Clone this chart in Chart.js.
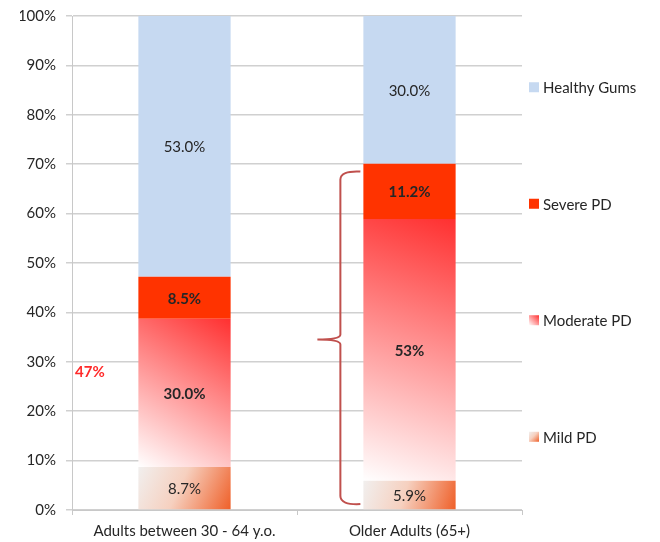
<!DOCTYPE html>
<html>
<head>
<meta charset="utf-8">
<script src="https://cdn.jsdelivr.net/npm/chart.js@4"></script>
<style>
  html, body { margin: 0; padding: 0; background: #fff; }
  #wrap { width: 660px; height: 542px; }
</style>
</head>
<body>
<div id="wrap"><canvas id="chart"></canvas></div>
<script>
// data
const categories = ["Adults between 30 - 64 y.o.", "Older Adults (65+)"];
const mildPD = [8.7, 5.9];
const moderatePD = [30.0, 53];
const severePD = [8.5, 11.2];
const healthyGums = [53.0, 30.0];

// text shown inside the bars
const mildLabels = ["8.7%", "5.9%"];
const moderateLabels = ["30.0%", "53%"];
const severeLabels = ["8.5%", "11.2%"];
const healthyLabels = ["53.0%", "30.0%"];

// note + brace on the side
const sideNote = "47%";
const sideNoteValue = 28;
const braceRange = [68.5, 34.5, 1.2]; // top, tip, bottom (% on y axis)

const FONT = "Lato, 'Open Sans', sans-serif";
const TEXT = "#262626";
const BAR_PCT = 0.41;

// bar segment box in pixels, from the scales
function segBox(chart, dsIndex, i) {
  const xs = chart.scales.x, ys = chart.scales.y;
  const sets = chart.data.datasets;
  let base = 0;
  for (let k = 0; k < dsIndex; k++) base += sets[k].data[i];
  const top = base + sets[dsIndex].data[i];
  const xc = xs.getPixelForValue(i);
  const w = (xs.width / categories.length) * BAR_PCT;
  return {
    left: xc - w / 2,
    right: xc + w / 2,
    top: ys.getPixelForValue(Math.min(top, 100)),
    bottom: ys.getPixelForValue(base),
  };
}

function mildGradient(c, b) {
  const g = c.createLinearGradient(b.left, b.top, b.right, b.bottom);
  g.addColorStop(0, "#f1efee");
  g.addColorStop(0.45, "#f6d0bf");
  g.addColorStop(1, "#ef5f28");
  return g;
}

function moderateGradient(c, b) {
  const g = c.createLinearGradient(b.left, b.bottom, b.right, b.top);
  g.addColorStop(0, "#ffffff");
  g.addColorStop(1, "#ff3030");
  return g;
}

function scriptedFill(kind, fallback) {
  return function (ctx) {
    const chart = ctx.chart;
    if (!chart.chartArea || ctx.dataIndex === undefined) return fallback;
    const b = segBox(chart, ctx.datasetIndex, ctx.dataIndex);
    return kind === "mild" ? mildGradient(chart.ctx, b) : moderateGradient(chart.ctx, b);
  };
}

// labels inside bars
const barLabels = {
  id: "barLabels",
  afterDatasetsDraw(chart) {
    const c = chart.ctx;
    const labelSets = [mildLabels, moderateLabels, severeLabels, healthyLabels];
    const bold = [false, true, true, false];
    c.save();
    c.textAlign = "center";
    c.textBaseline = "middle";
    c.fillStyle = TEXT;
    labelSets.forEach((labels, d) => {
      c.font = (bold[d] ? "bold " : "") + "15px " + FONT;
      labels.forEach((txt, i) => {
        const b = segBox(chart, d, i);
        c.fillText(txt, (b.left + b.right) / 2, (b.top + b.bottom) / 2 + 1);
      });
    });
    c.restore();
  },
};

// brace, side note and legend
const extras = {
  id: "extras",
  afterDraw(chart) {
    const c = chart.ctx;
    const ys = chart.scales.y;
    const area = chart.chartArea;

    // side note
    c.save();
    c.font = "bold 15px " + FONT;
    c.fillStyle = "#ff2a2a";
    c.textAlign = "left";
    c.textBaseline = "middle";
    c.fillText(sideNote, area.left + 3, ys.getPixelForValue(sideNoteValue));

    // brace next to second bar
    const b = segBox(chart, 0, 1);
    const xr = b.left - 3;
    const xv = b.left - 23;
    const xt = b.left - 46;
    const yT = ys.getPixelForValue(braceRange[0]);
    const yM = ys.getPixelForValue(braceRange[1]);
    const yB = ys.getPixelForValue(braceRange[2]);
    c.strokeStyle = "#c0504d";
    c.lineWidth = 2;
    c.beginPath();
    c.moveTo(xr, yT);
    c.quadraticCurveTo(xv, yT - 1, xv, yT + 8);
    c.lineTo(xv, yM - 5);
    c.quadraticCurveTo(xv, yM, xt, yM);
    c.moveTo(xt, yM);
    c.quadraticCurveTo(xv, yM, xv, yM + 5);
    c.lineTo(xv, yB - 8);
    c.quadraticCurveTo(xv, yB + 1, xr, yB);
    c.stroke();

    // legend on the right
    const items = [
      { text: "Healthy Gums", fill: () => "#c6d9f1" },
      { text: "Severe PD", fill: () => "#ff3300" },
      { text: "Moderate PD", fill: (bx) => moderateGradient(c, bx) },
      { text: "Mild PD", fill: (bx) => mildGradient(c, bx) },
    ];
    const step = 116.5;
    const mid = (area.top + area.bottom) / 2;
    const lx = area.right + 7;
    c.font = "15px " + FONT;
    items.forEach((it, k) => {
      const y = mid + (k - 1.5) * step;
      const bx = { left: lx, right: lx + 10, top: y - 6, bottom: y + 4 };
      c.fillStyle = it.fill(bx);
      c.fillRect(bx.left, bx.top, 10, 10);
      c.fillStyle = TEXT;
      c.fillText(it.text, lx + 14, y);
    });
    c.restore();
  },
};

new Chart(document.getElementById("chart"), {
  type: "bar",
  data: {
    labels: categories,
    datasets: [
      { label: "Mild PD", data: mildPD, backgroundColor: scriptedFill("mild", "#f5b89c") },
      { label: "Moderate PD", data: moderatePD, backgroundColor: scriptedFill("moderate", "#ff8080") },
      { label: "Severe PD", data: severePD, backgroundColor: "#ff3300" },
      { label: "Healthy Gums", data: healthyGums, backgroundColor: "#c6d9f1" },
    ],
  },
  options: {
    responsive: true,
    maintainAspectRatio: false,
    animation: false,
    barPercentage: BAR_PCT,
    categoryPercentage: 1,
    layout: {
      padding: { left: 20, right: 138, top: 16, bottom: 0 },
    },
    plugins: {
      legend: { display: false },
      tooltip: { enabled: false },
    },
    scales: {
      x: {
        stacked: true,
        afterFit: (s) => {
          s.height = 32;
          s.paddingLeft = 0;
          s.paddingRight = 0;
        },
        grid: {
          display: true,
          drawOnChartArea: false,
          offset: true,
          tickLength: 5,
          color: "#c8c8c8",
        },
        border: { color: "#c8c8c8", width: 1 },
        ticks: {
          color: TEXT,
          font: { family: FONT, size: 15 },
          padding: 7,
          maxRotation: 0,
        },
      },
      y: {
        stacked: true,
        min: 0,
        max: 100,
        afterFit: (s) => {
          s.width = 52;
          s.paddingTop = 0;
          s.paddingBottom = 0;
        },
        grid: { color: "#d0d0d0", tickLength: 6, lineWidth: 1.5 },
        border: { color: "#c8c8c8", width: 1 },
        ticks: {
          stepSize: 10,
          color: TEXT,
          font: { family: FONT, size: 15 },
          padding: 10,
          callback: (v) => v + "%",
        },
      },
    },
  },
  plugins: [barLabels, extras],
});
</script>
</body>
</html>
